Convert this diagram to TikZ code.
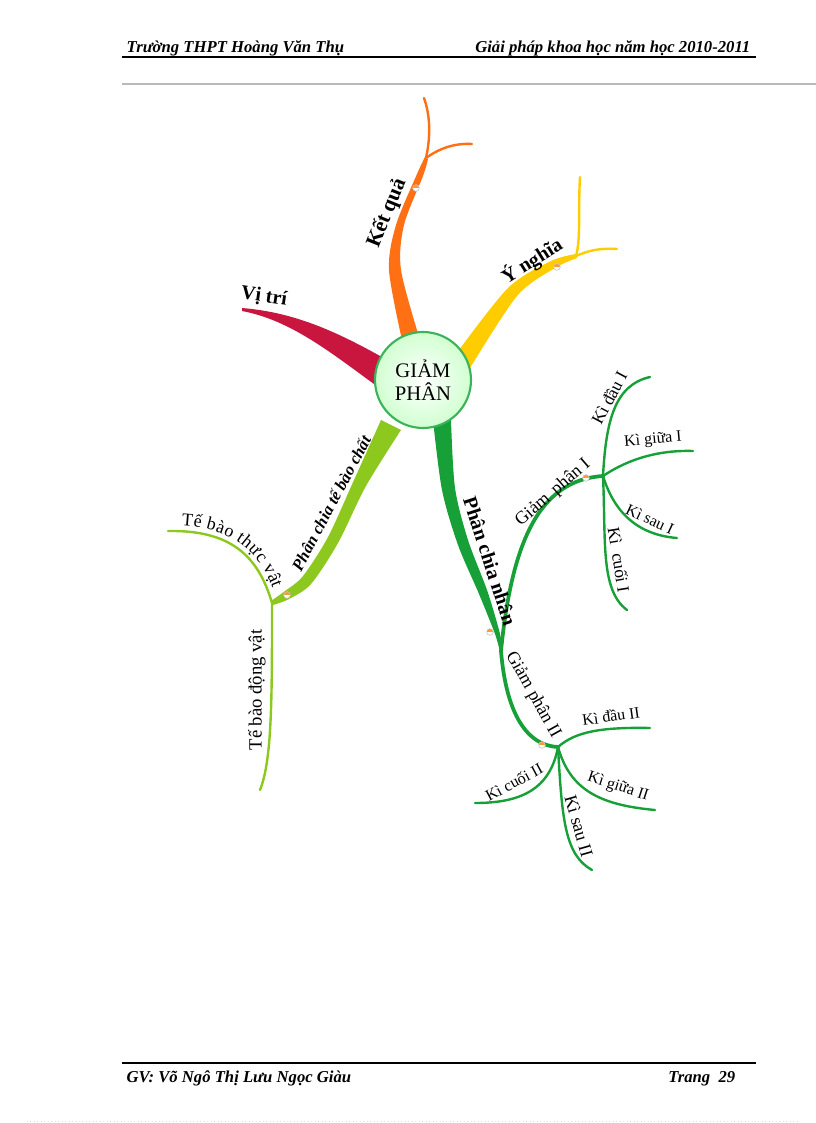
\documentclass[tikz,border=0pt]{standalone}
\usepackage{fontspec}
\setmainfont{Liberation Serif}
\usetikzlibrary{positioning,decorations.text}
\definecolor{vitri}{RGB}{200,22,62}
\definecolor{ketqua}{RGB}{255,112,20}
\definecolor{ynghia}{RGB}{255,204,0}
\definecolor{tbchat}{RGB}{140,200,30}
\definecolor{nhan}{RGB}{22,160,55}
\definecolor{ring}{RGB}{60,178,90}
\newcommand{\fsz}[1]{\fontsize{#1}{#1}\selectfont}

\begin{document}
\begin{tikzpicture}[x=0.75pt,y=-0.75pt,
  twig/.style={line width=1.8pt,line cap=round},
  limb/.style={line width=2.8pt,line cap=round},
  leaf/.style={inner sep=0pt,font=\fsz{12}},
  main label/.style={inner sep=0pt,font=\bfseries\fsz{15}},
  knob/.style={circle,draw=gray!50,fill=white,minimum size=5pt,inner sep=0pt,
    path picture={\fill[orange!80] (path picture bounding box.north west) rectangle (path picture bounding box.east);}}]
\useasboundingbox (0,0) rectangle (816,1123);

% header and footer
\node[anchor=base west,font=\bfseries\itshape\fsz{12.5}] (school) at (122,53) {Trường THPT Hoàng Văn Thụ};
\node[anchor=base east,font=\bfseries\itshape\fsz{12.5}] (topic) at (755,53) {Giải pháp khoa học năm học 2010-2011};
\draw[line width=0.8pt] (122,57) -- (756,57);
\draw[gray!55,line width=0.8pt] (122,84) -- (816,84);
\draw[line width=0.8pt] (122,1063) -- (756,1063);
\node[anchor=base west,font=\bfseries\itshape\fsz{12.5}] (teacher) at (122,1082) {GV: Võ Ngô Thị Lưu Ngọc Giàu};
\node[anchor=base east,font=\bfseries\itshape\fsz{12.5}] (page) at (740,1082) {Trang \ 29};
\draw[gray!25,dotted,line width=0.6pt] (27,1121) -- (800,1121);

% forks and hubs
\coordinate (kq fork) at (426,158);
\coordinate (yn fork) at (576,256);
\coordinate (tb fork) at (272,603);
\coordinate (nh fork) at (501,651);
\coordinate (gp1 hub) at (603,476);
\coordinate (gp2 hub) at (558,747);
% tips
\coordinate (kq up) at (424,98);
\coordinate (kq right) at (472,144);
\coordinate (yn up) at (580,177);
\coordinate (yn right) at (617,249);
\coordinate (tv tip) at (168,531);
\coordinate (dv tip) at (260,790);
\coordinate (kd1 tip) at (650,377);
\coordinate (kg1 tip) at (693,451);
\coordinate (ks1 tip) at (677,538);
\coordinate (kc1 tip) at (627,610);
\coordinate (kd2 tip) at (650,728);
\coordinate (kc2 tip) at (475,803);
\coordinate (kg2 tip) at (655,810);
\coordinate (ks2 tip) at (592,870);

% main branches
\fill[vitri] (242,308) .. controls (290,312) and (330,328) .. (380,356) -- (374,384) .. controls (330,352) and (290,320) .. (242,311) -- cycle;
\fill[ketqua] plot[smooth] coordinates {(402,340) (389,270) (396,225) (417,174) (425,157)} -- plot[smooth] coordinates {(428,159) (423,176) (404,225) (401,270) (420,340)} -- cycle;
\fill[ynghia] plot[smooth] coordinates {(456,354) (508,288) (551,261) (576,254)} -- plot[smooth] coordinates {(577,258) (555,268) (517,296) (470,368)} -- cycle;
\fill[tbchat] plot[smooth] coordinates {(381,420) (354,480) (328,537) (303,576) (285,591) (271,601)} -- plot[smooth] coordinates {(273,605) (289,599) (311,584) (338,543) (366,486) (401,430)} -- cycle;
\fill[nhan] plot[smooth] coordinates {(433,420) (442,490) (458,545) (479,594) (495,634) (500,652)} -- plot[smooth] coordinates {(503,650) (499,630) (487,590) (468,540) (455,488) (451,420)} -- cycle;

% twigs
\draw[twig,ketqua] (kq fork) .. controls (431,135) and (430,115) .. (kq up);
\draw[twig,ketqua] (kq fork) .. controls (440,148) and (455,143) .. (kq right);
\draw[twig,ynghia] (yn fork) .. controls (581,238) and (578,210) .. (yn up);
\draw[twig,ynghia] (yn fork) .. controls (590,250) and (600,248) .. (yn right);
\draw[twig,tbchat] (tb fork) .. controls (258,555) and (230,530) .. (tv tip);
\draw[twig,tbchat] (tb fork) .. controls (272,700) and (272,760) .. (dv tip);
\draw[limb,nhan] (nh fork) .. controls (512,540) and (540,480) .. (gp1 hub);
\draw[limb,nhan] (nh fork) .. controls (505,700) and (520,745) .. (gp2 hub);
\draw[twig,nhan] (gp1 hub) .. controls (606,420) and (615,385) .. (kd1 tip);
\draw[twig,nhan] (gp1 hub) .. controls (630,458) and (660,450) .. (kg1 tip);
\draw[twig,nhan] (gp1 hub) .. controls (615,515) and (640,535) .. (ks1 tip);
\draw[twig,nhan] (gp1 hub) .. controls (606,540) and (600,590) .. (kc1 tip);
\draw[twig,nhan] (gp2 hub) .. controls (575,732) and (600,727) .. (kd2 tip);
\draw[twig,nhan] (gp2 hub) .. controls (550,790) and (520,803) .. (kc2 tip);
\draw[twig,nhan] (gp2 hub) .. controls (570,790) and (600,805) .. (kg2 tip);
\draw[twig,nhan] (gp2 hub) .. controls (562,820) and (565,855) .. (ks2 tip);

% markers
\node[knob] (kq knob) at (416,188) {};
\node[knob] (yn knob) at (557,267) {};
\node[knob] (tb knob) at (287,595) {};
\node[knob] (nh knob) at (490,632) {};
\node[knob] (gp1 knob) at (586,478) {};
\node[knob] (gp2 knob) at (542,745) {};

% centre
\node[circle,draw=ring,line width=1.6pt,inner color=white,outer color=green!18,minimum size=72pt,align=center,font=\fsz{15.5}] (GP) at (423,380) {GIẢM\\[2pt]PHÂN};

% labels
\begin{scope}[every node/.style={main label}]
\node[rotate=-8] (vt) at (264,297) {Vị trí};
\node[rotate=68,font=\bfseries\fsz{16}] (kq) at (387,213) {Kết quả};
\node[rotate=32] (yn) at (532,261) {Ý nghĩa};
\node[rotate=62,font=\bfseries\itshape\fsz{12.5}] (tb) at (331,503) {Phân chia tế bào chất};
\node[rotate=-72] (nh) at (490,561) {Phân chia nhân};
\end{scope}
\begin{scope}[every node/.style={leaf}]
\node[rotate=41,font=\fsz{13.5}] (gp1) at (553,493) {Giảm \,phân I};
\node[rotate=62,font=\fsz{13}] (kd1) at (609,398) {Kì đầu I};
\node[rotate=5] (kg1) at (653,440) {Kì giữa I};
\node[rotate=-25] (ks1) at (650,519) {Kì sau I};
\node[rotate=-81,font=\fsz{13}] (kc1) at (619,560) {Kì \ cuối I};
\node[rotate=-61,font=\fsz{13.5}] (gp2) at (533,695) {Giảm phân II};
\node[rotate=8] (kd2) at (611,716) {Kì đầu II};
\node[rotate=28] (kc2) at (514,782) {Kì cuối II};
\node[rotate=-18] (kg2) at (618,787) {Kì giữa II};
\node[rotate=-74,font=\fsz{13.5}] (ks2) at (579,826) {Kì sau II};
\node[rotate=90,font=\fsz{14}] (dv) at (257,690) {Tế bào động vật};
\end{scope}
\path[decorate,decoration={text along path,text align=center,raise=4pt,
  text={|\fsz{13.5}|Tế bào thực vật}}] (tv tip) .. controls (230,530) and (258,555) .. (tb fork);
\end{tikzpicture}
\end{document}
